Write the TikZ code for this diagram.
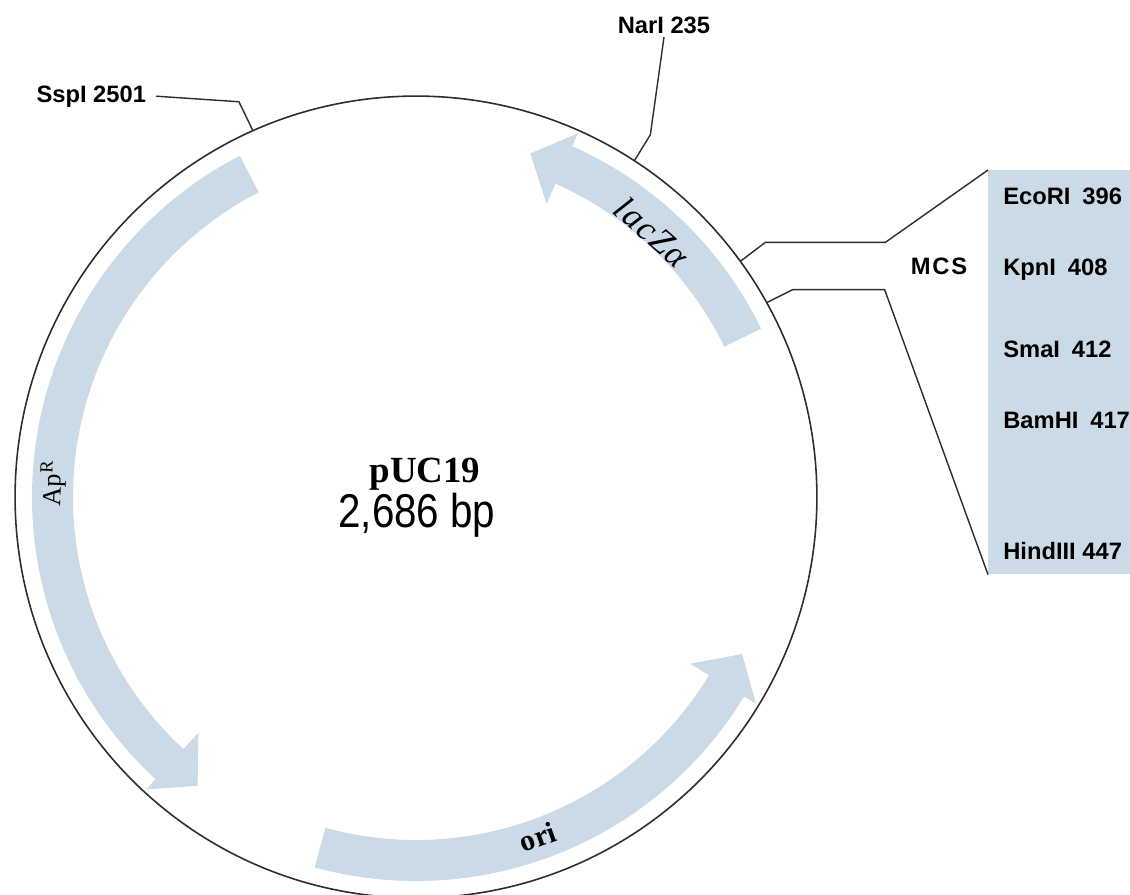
\documentclass[tikz,border=0pt]{standalone}
\usepackage{fontspec}
\setmainfont{Liberation Serif}
\setsansfont{Liberation Sans}
\newfontfamily\narrowsans[FakeStretch=0.85]{Liberation Sans}
\newfontfamily\spacedserif[LetterSpace=4]{Liberation Serif}
\usetikzlibrary{positioning}
\definecolor{PucBlue}{RGB}{203,218,231}
\definecolor{PucLine}{RGB}{45,45,45}
\tikzset{
  puc/plasmid/.style={
    circle,
    draw=PucLine,
    line width=0.9pt,
    minimum size=16.04cm,
    inner sep=0pt,
    outer sep=0pt
  },
  puc/feature/.style={fill=PucBlue, draw=none},
  puc/leader/.style={draw=PucLine, line width=0.8pt},
  puc/site/.style={font=\sffamily\bfseries\fontsize{13.5}{16}\selectfont, inner sep=0pt, text=black},
  puc/mcsbox/.style={
    fill=PucBlue,
    draw=none,
    inner sep=0pt,
    minimum width=2.96cm,
    minimum height=8.08cm,
    anchor=north west
  },
  puc/gene/.style={inner sep=0pt, text=black}
}

\begin{document}
\begin{tikzpicture}[x=0.02cm,y=0.02cm]
  \useasboundingbox (-416,-397) rectangle (714,497);
  % genes: band from start to end angle, head after the end
  \foreach \s/\e in {26/66,117.3/227.3,-105.3/-31.3}{
    \pgfmathsetmacro{\tipang}{\e+5.6}
    \fill[puc/feature] (\s:343) arc[start angle=\s, end angle=\e, radius=343]
      -- (\e:321) -- (\tipang:362) -- (\e:398) -- (\e:384)
      arc[start angle=\e, end angle=\s, radius=384] -- cycle;
  }
  \node[puc/plasmid] (puc) at (0,0) {};

  \node[puc/gene, font=\spacedserif\itshape\fontsize{20}{22}\selectfont, rotate=-41.7] (lacz) at (48.3:355) {lacZα};
  \node[puc/gene, font=\fontsize{15}{17}\selectfont, rotate=87.8] (apr) at (177.8:363) {Ap\textsuperscript{R}};
  \node[puc/gene, font=\bfseries\fontsize{17}{19}\selectfont, rotate=19.7] (ori) at (-70.3:361) {ori};

  \node[font=\bfseries\fontsize{21}{24}\selectfont, anchor=base] (pname) at (9,15) {pUC19};
  \node[font=\narrowsans\fontsize{27}{30}\selectfont, anchor=base] (psize) at (1,-30) {2,686 bp};

  % single sites
  \node[puc/site, anchor=base east, inner xsep=5.5pt] (sspI) at (-260,395) {SspI 2501};
  \node[puc/site, anchor=base, inner ysep=2pt] (narI) at (248,464) {NarI 235};
  \draw[puc/leader] (puc.114.9) -- ++(-14,29) -- (sspI.east);
  \draw[puc/leader] (puc.57) -- ++(16,26) -- (narI.south);

  % MCS
  \node[puc/mcsbox] (mcs) at (572,327) {};
  \node[puc/site, anchor=base] (mcslabel) at (523,223) {M\kern1pt C\kern1pt S};
  \foreach \n/\txt/\y in {ecoRI/{EcoRI\enspace396}/293,kpnI/{KpnI\enspace408}/222,smaI/{SmaI\enspace412}/140,bamHI/{BamHI\enspace417}/69,hindIII/{HindIII 447}/-62}{
    \node[puc/site, anchor=base west] (\n) at (587,\y) {\txt};
  }
  \draw[puc/leader] (puc.36.5) -- ++(25,19) -- ++(120,0) -- (mcs.north west);
  \draw[puc/leader] (puc.29.9) -- ++(26,13) -- ++(92,0) -- (mcs.south west);
\end{tikzpicture}
\end{document}
